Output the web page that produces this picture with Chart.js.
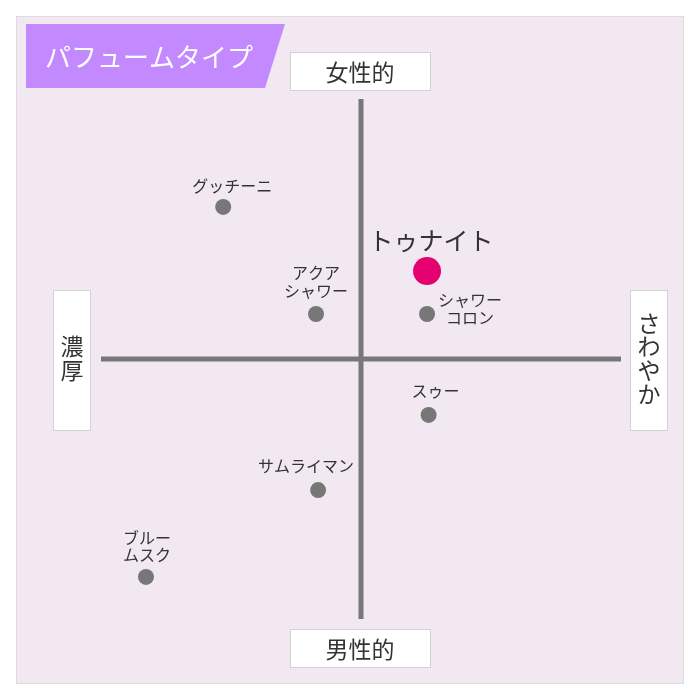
<!DOCTYPE html>
<html><head><meta charset="utf-8">
<script src="https://cdn.jsdelivr.net/npm/chart.js@4"></script>
<style>html,body{margin:0;padding:0;background:#fff;}#wrap{width:700px;height:700px;}</style>
</head><body><div id="wrap"><canvas id="c" width="700" height="700"></canvas></div>
<script>
const productNames = [["グッチーニ"],["アクア","シャワー"],["シャワー","コロン"],["スゥー"],["サムライマン"],["ブルー","ムスク"]];
const productX = [-5.3,-1.73,2.54,2.6,-1.65,-8.27];
const productY = [5.85,1.73,1.73,-2.15,-5.04,-8.38];
const highlightName = ["トゥナイト"];
const highlightX = [2.54];
const highlightY = [3.38];
const axisLabels = {top:"女性的",bottom:"男性的",left:"濃厚",right:"さわやか"};
const titleText = "パフュームタイプ";

// label offsets (px) relative to point: [dx, dy of first line]
const labelOffsets = [[9,-21],[0,-41],[43,-14],[7,-24],[-12,-24],[1,-39]];
const FONT = '"Noto Sans CJK JP","Noto Sans",sans-serif';

const decor = {
  id:'decor',
  beforeDraw(chart){
    const ctx = chart.ctx;
    ctx.save();
    ctx.fillStyle='#f2e8f2';
    ctx.fillRect(16,16,668,668);
    ctx.strokeStyle='#dedade';
    ctx.lineWidth=1;
    ctx.strokeRect(16.5,16.5,667,667);
    // title badge
    ctx.fillStyle='#c389ff';
    ctx.beginPath();
    ctx.moveTo(26,24);ctx.lineTo(285,24);ctx.lineTo(265,88);ctx.lineTo(26,88);ctx.closePath();ctx.fill();
    ctx.fillStyle='#fff';
    ctx.font='26px '+FONT;
    ctx.textAlign='center';ctx.textBaseline='middle';
    ctx.fillText(titleText,149,57);
    // axes
    const xs=chart.scales.x, ys=chart.scales.y;
    const cx=xs.getPixelForValue(0), cy=ys.getPixelForValue(0);
    ctx.strokeStyle='#777';ctx.lineWidth=5;
    ctx.beginPath();
    ctx.moveTo(cx,ys.getPixelForValue(10));ctx.lineTo(cx,ys.getPixelForValue(-10));
    ctx.moveTo(xs.getPixelForValue(-10),cy);ctx.lineTo(xs.getPixelForValue(10),cy);
    ctx.stroke();
    // label boxes
    function box(x,y,w,h){ctx.fillStyle='#fff';ctx.fillRect(x,y,w,h);ctx.strokeStyle='#d4d0d4';ctx.lineWidth=1;ctx.strokeRect(x+0.5,y+0.5,w-1,h-1);}
    box(290,52,141,39);box(290,629,141,39);box(53,290,38,141);box(630,290,38,141);
    ctx.fillStyle='#333';ctx.font='23px '+FONT;
    ctx.fillText(axisLabels.top,360,72);
    ctx.fillText(axisLabels.bottom,360,649);
    const L=[...axisLabels.left];
    L.forEach((ch,i)=>ctx.fillText(ch,72,346+i*24));
    const R=[...axisLabels.right];
    R.forEach((ch,i)=>ctx.fillText(ch,649,323+i*23.7));
    ctx.restore();
  },
  afterDatasetsDraw(chart){
    const ctx=chart.ctx;
    ctx.save();
    ctx.fillStyle='#333';ctx.textAlign='center';ctx.textBaseline='middle';
    ctx.font='16px '+FONT;
    const m0=chart.getDatasetMeta(0);
    m0.data.forEach((pt,i)=>{
      const [dx,dy]=labelOffsets[i];
      productNames[i].forEach((line,j)=>ctx.fillText(line,pt.x+dx,pt.y+dy+j*17.5));
    });
    ctx.font='25px '+FONT;
    const m1=chart.getDatasetMeta(1);
    m1.data.forEach((pt,i)=>ctx.fillText(highlightName[i],pt.x+4,pt.y-31));
    ctx.restore();
  }
};

new Chart(document.getElementById('c'),{
  type:'scatter',
  data:{datasets:[
    {data:productX.map((x,i)=>({x,y:productY[i]})),backgroundColor:'#777',borderWidth:0,pointRadius:8,pointHoverRadius:8},
    {data:highlightX.map((x,i)=>({x,y:highlightY[i]})),backgroundColor:'#e4006e',borderWidth:0,pointRadius:14,pointHoverRadius:14}
  ]},
  options:{
    responsive:false,animation:false,
    layout:{padding:{left:101,right:79,top:99,bottom:81}},
    scales:{x:{type:'linear',min:-10,max:10,display:false},y:{type:'linear',min:-10,max:10,display:false}},
    plugins:{legend:{display:false},tooltip:{enabled:false}}
  },
  plugins:[decor]
});
</script></body></html>
